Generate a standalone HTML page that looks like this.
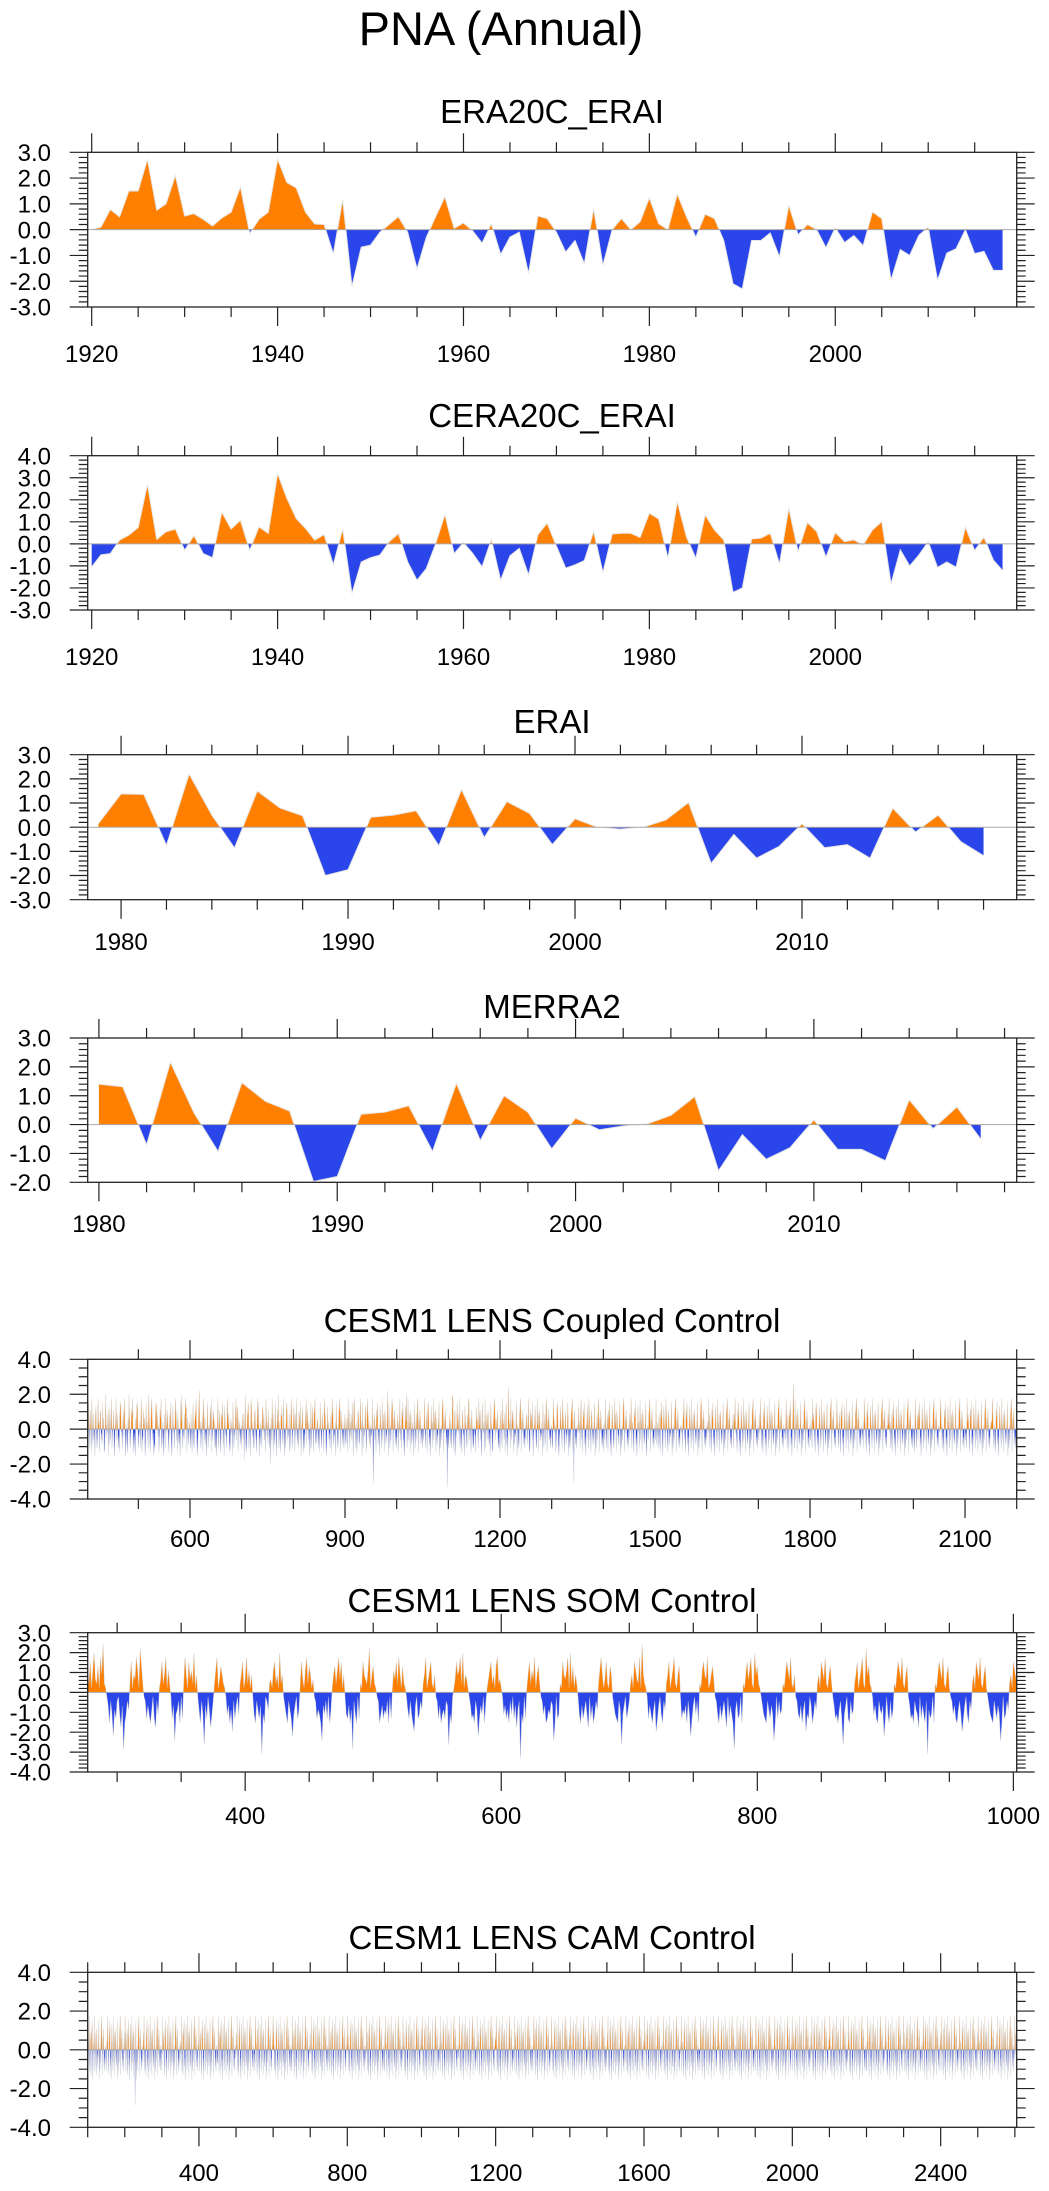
<!DOCTYPE html>
<html><head><meta charset="utf-8"><title>PNA (Annual)</title>
<style>html,body{margin:0;padding:0;background:#fff}svg{display:block;font-family:"Liberation Sans",Arial,sans-serif}</style>
</head><body>
<svg id="chart" xmlns="http://www.w3.org/2000/svg" width="1049" height="2191" viewBox="0 0 1049 2191">
<rect x="0" y="0" width="1049" height="2191" fill="#fff"/>
<text x="501" y="45" text-anchor="middle" font-size="47" fill="#000">PNA (Annual)</text>
<defs id="defs"></defs>
</svg>
<script>
// ---------- data ----------
const era20cStart = 1920;
const era20cValues = [0.0,0.1,0.78,0.5,1.5,1.5,2.73,0.75,1.0,2.1,0.53,0.62,0.4,0.14,0.45,0.68,1.66,-0.15,0.4,0.68,2.73,1.83,1.62,0.68,0.22,0.2,-0.94,1.17,-2.2,-0.68,-0.6,-0.1,0.2,0.5,-0.1,-1.52,-0.3,0.5,1.27,0.05,0.26,-0.05,-0.52,0.23,-0.96,-0.29,-0.1,-1.7,0.53,0.43,-0.1,-0.87,-0.42,-1.32,0.82,-1.38,0.0,0.43,0.0,0.3,1.23,0.23,0.0,1.38,0.5,-0.29,0.6,0.43,-0.42,-2.1,-2.3,-0.42,-0.42,-0.13,-1.06,0.95,-0.2,0.2,0.0,-0.7,0.08,-0.5,-0.23,-0.62,0.69,0.43,-1.95,-0.77,-1.0,-0.22,0.1,-1.97,-0.91,-0.74,0.0,-0.93,-0.84,-1.58,-1.58];
const cera20cStart = 1920;
const cera20cValues = [-1.04,-0.5,-0.44,0.17,0.4,0.74,2.7,0.2,0.55,0.67,-0.29,0.38,-0.44,-0.63,1.44,0.67,1.07,-0.29,0.77,0.47,3.19,2.06,1.15,0.7,0.17,0.42,-0.94,0.67,-2.25,-0.82,-0.63,-0.51,0.09,0.47,-0.82,-1.65,-1.12,0.0,1.33,-0.44,0.06,-0.44,-1.04,0.2,-1.65,-0.54,-0.2,-1.41,0.41,0.94,-0.1,-1.1,-0.95,-0.76,0.56,-1.3,0.45,0.48,0.48,0.29,1.39,1.13,-0.65,1.92,0.3,-0.65,1.31,0.63,0.18,-2.2,-2.0,0.22,0.26,0.48,-0.9,1.62,-0.35,0.97,0.56,-0.6,0.51,0.1,0.18,-0.05,0.63,1.01,-1.81,-0.27,-1.0,-0.5,0.1,-1.07,-0.82,-1.06,0.76,-0.3,0.3,-0.73,-1.21];
const eraiStart = 1979;
const eraiValues = [0.15,1.38,1.36,-0.75,2.2,0.5,-0.86,1.5,0.8,0.47,-2.0,-1.76,0.41,0.5,0.68,-0.77,1.56,-0.43,1.06,0.57,-0.72,0.35,0.0,-0.08,0.0,0.3,1.02,-1.5,-0.3,-1.28,-0.79,0.14,-0.85,-0.72,-1.28,0.79,-0.2,0.5,-0.6,-1.18];
const merra2Start = 1980;
const merra2Values = [1.4,1.31,-0.7,2.16,0.39,-0.93,1.45,0.8,0.47,-1.97,-1.8,0.36,0.43,0.65,-0.93,1.43,-0.55,1.0,0.43,-0.84,0.22,-0.18,-0.05,0.02,0.32,0.97,-1.6,-0.35,-1.2,-0.8,0.16,-0.86,-0.86,-1.25,0.86,-0.14,0.61,-0.5];
// code letters: (index in ALPH - 18) * 0.22
const ALPH = "0123456789abcdefghijklmnopqrstuvwxyz";
const coupledStart = 402;
const coupledCodes =
"lgpdjnhcqkemfiblohdgqjkcnmfhepilcdkrgjhmboenfkqdhj"+"nebhkqfmjdgclpoihdkngqmbfjeclhrkdgjnmqcfhebliopkdg"+
"hkdmqcgfnjlbepikhdrmgcjnqlfhbedkpoimgjchnlqdfkebmh"+"dqjhnkfcmglpebiohjdkqmfnclgehbpkrjdigmfqonclhekjgd"+
"mhcjpfdklnqgbeioshkdgjmcqnflehbkpdijgmocqfhnlkedjb"+"gkqdhnjcfmlpeibokhgdqnjmfcelhkbpjdigmqfonclhkegjdm"+
"ifmakrecglnpdhjbqoigkedmnhfclqjpbgekidnohmfjcqlgke"+"nhdj9lfqkcmegpibhnjrdkfcmlogeqhbjdkpnfigmcelqkdhjo"+
"kcmgqhejdnlfpbikogchdjmqenlfkhbgpdjoicmnqfehlkdgjc"+"pjfdmkhcqnlebgoikfhdjmcqnleghkbpjidfmoqcnlhekgdjmf"+
"ejlcqhndkgmfpiboqhjdkcgmnfelqhkbpdjigmocfqnlhekdjg"+"hqd4kmfjcnlpegibokhdqfjmcnleghskbpidjfmqoclhnkegdj"+
"mckhqfjdnlpgebiokrdhqfjmcnlegkhbpidjmfoqclhnkegjdi"+"fkqhdjmcnplegbiohkdqfjmncleghkpbidjfmqoclhnkeg3jdf"+
"jmekdhrqfclnbgipkhmeqdjfcnlhgbokidjmepqflhcnkgdejh"+"gcoklhdqjmfnbepihkcqdmjflngehbpkidcjmqoflhkngedjck"+
"nhdqkjfmclpegbtohkdqfjmnclehgkpbjidfmoqclhnkegdjfm"+"lejqhcdnkmfpbgikohedqjmcnlfhgkbpidjmeoqclhnkfgdjie"+
"dqmkhjcfnplebgiokhdqmjfcnlehgpkbidfjmoqcl4nkegdjih"+"ohkdmqfjcnlpegbikohdqmfjcnlhegkpbidjmfoqclhnkegdjc"+
"kfqhdjmcnlpgebiokhdfqjmcnlhgekpbidjfmqoclhnkegdjfm"+"hmqdkjfcnlpegbiohkdqfmjcnlhegkpbdijfmoqclhnkegdjif"+
"qekhdjmfcnlpgbiokhdqmjfcnlehgkpbidjfmoqclhnkegdjih"+"jdkmqhfcnlpegbiokhdqfjmcnlhegkpbidjfmqoclhnkegdjfi"+
"khqdmjfcnlpegbiokhdqfjmcnlhegkpbidjfmoqclhnkegdjim"+"dmkqhjfcnlpgebiokhdqfjmcnlhegkpbidjfmoqclhnkegdjif"+
"mhqkdjfcnlpegbiokhdqfjmcnlhegkpbidjfmoqclhnkegdjih"+"fkqhdmjcnlpegbiouhdqfjmcnlhegkpbidjfmoqclhnkegdjif"+
"lhdqkmjfcnplegbiokhdqfjmcnlhegkpbidjfmoqclhnkegdji"+"qkhdjmfcnlpegbiokhdqfjmcnlhegkpbidjfmoqclhnkegdjif"+
"hkdqmjfcnlpegbiokhdqfjmcnlhegkpbidjfmoqclhnkegdjim"+"jqhkdmfcnlpegbiokhdqfjmcnlhegkpbidjfmoqclhnkegdjif"+
"ckqhdjmfnlpegbiokhdqfjmcnlhegkpbidjfmoqclhnkegdjih"+"mqkhdjfcnlpegbiokhdqfjmcnlhegkpbidjfmoqclhnkegdjif"+
"hdqkmjfcnlpegbiokhdqfjmcnlhegkpbidjfmoqclhnkegdjik"+"kqmhdjfcnlpegbiokhdqfjmcnlhegkpbidjfmoqclhnkegdjif"+
"dhqkmjfcnlpegbiokhdqfjmcnlhegkpbidjfmoqclhnkegdjif";
const coupledValues = Array.from(coupledCodes, c => (ALPH.indexOf(c) - 18) * 0.22);
const somStart = 277;
const somCodes =
"mkpjnrlkojqmtkjhfbgd8ecghdaf5bdgekpjmlqnjsokhgcfdb"+"ehcagdjlpkmqjnkhcf7degbhckqmjplnkrjmhebgd6fcheadgk"+
"nqjlomkjhdfbe9gcfhdkmpjlqknjmhdbgecf4dbhgekljnpkmj"+"rkmhfdbgec8dfhcekpljnqkomjlhgcedb7fdgchbejmoknqlpj"+
"mhdcfbe5gdbhckjpmlknsjmokjhgbdfcedgbhcjnlpkqmjokjh"+"ecgdb9fhcdgekmqjlnpkjmhgcfbdecgf6dbhjlpmnqkrjmljhf"+
"cdbge8cfdhbgjlnpkmjoqkljhdfcebgdhcfaeg3dbhcjmpknlq"+"jmokhgdfbcedgf7bhcdkjpmlnqjrkojmkhdbfcegdahcfbdgek"+
"nqmjlpkjomhfdcbge6dfhcegkmjpnlkqjtmkjhcfdbeg9cfhdb"+"gekmpjlnqkjmohcedfbgd8cfhdgbkjnpmlqjkmolhgdbfcegda"+
"hcfdb5egcdhbkjmplnqkjrmokjhfdcbgecfd7bhcgdekjmpnlq"+"kjmhgdcfbeg9dchfbdgekmjpnlqkjmokhfcdbegc6dfhcbgdek"+
"mpjlnqkjsmokjhdfcbgedf8chdbgcekjmpnlqkjmohfcdbgeda"+"hcfdbg4ecdhbkjmpnlqkjmojhgdfcbegd9cfhdbgekmjpnlqkj"+
"mojhfdcbgecfd7bhcdgekmjpnlqkjrmokjhgdfcbeg8dchfbdg"+"ekmjpnlqkjmohfdcbgecf6dhbcgdekjmpnlqkjmokhgdfcbega";
const somValues = Array.from(somCodes, c => (ALPH.indexOf(c) - 18) * 0.22);
const camStart = 100;
const camCodes =
"oehkqdjmfcnlpgbikhqdmjfcnlehgkpbidjfmoqclhnkegdjif"+"kdhqmjfcnlpegbiokhdqfjmcnlhegkpbidjfmoqclhnkegdjim"+
"hqkdmjfcnlpegbiokhdqfjmcnlhe5kpbidjfmoqclhnkegdjif"+"mkqhdjfcnlpegbiokhdqfjmcnlhegkpbidjfmoqclhnkegdjih"+
"dqhkmjfcnlpegbiokhdqfjmcnlhegkpbidjfmoqclhnkegdjif"+"jkhqdmfcnlpegbiokhdqfjmcnlhegkpbidjfmoqclhnkegdjik"+
"qhdkmjfcnlpegbiokhdqfjmcnlhegkpbidjfmoqclhnkegdjif"+"fhqkdmjcnlpegbiokhdqfjmcnlhegkpbidjfmoqclhnkegdjig"+
"kmhqdjfcnlpegbiokhdqfjmcnlhegkpbidjfmoqclhnkegdjif"+"hdmqkjfcnlpegbiokhdqfjmcnlhegkpbidjfmoqclhnkegdjim"+
"qmkhdjfcnlpegbiokhdqfjmcnlhegkpbidjfmoqclhnkegdjif"+"dkqhmjfcnlpegbiokhdqfjmcnlhegkpbidjfmoqclhnkegdjih"+
"mhkqdjfcnlpegbiokhdqfjmcnlhegkpbidjfmoqclhnkegdjif"+"kqdhmjfcnlpegbiokhdqfjmcnlhegkpbidjfmoqclhnkegdjil"+
"hqmkdjfcnlpegbiokhdqfjmcnlhegkpbidjfmoqclhnkegdjif"+"jhqkdmfcnlpegbiokhdqfjmcnlhegkpbidjfmoqclhnkegdjie"+
"dmhqkjfcnlpegbiokhdqfjmcnlhegkpbidjfmoqclhnkegdjif"+"qkhmdjfcnlpegbiokhdqfjmcnlhegkpbidjfmoqclhnkegdjin"+
"khqmdjfcnlpegbiokhdqfjmcnlhegkpbidjfmoqclhnkegdjif"+"mdqhkjfcnlpegbiokhdqfjmcnlhegkpbidjfmoqclhnkegdjig"+
"hkqmdjfcnlpegbiokhdqfjmcnlhegkpbidjfmoqclhnkegdjif"+"qdkhmjfcnlpegbiokhdqfjmcnlhegkpbidjfmoqclhnkegdjil"+
"kmqhdjfcnlpegbiokhdqfjmcnlhegkpbidjfmoqclhnkegdjif"+"hqdkmjfcnlpegbiokhdqfjmcnlhegkpbidjfmoqclhnkegdjih"+
"dhkqmjfcnlpegbiokhdqfjmcnlhegkpbidjfmoqclhnkegdjif"+"mqhkdjfcnlpegbiokhdqfjmcnlhegkpbidjfmoqclhnkegdjim"+
"kdqmhjfcnlpegbiokhdqfjmcnlhegkpbidjfmoqclhnkegdjif"+"qhkdmjfcnlpegbiokhdqfjmcnlhegkpbidjfmoqclhnkegdjie"+
"hmkqdjfcnlpegbiokhdqfjmcnlhegkpbidjfmoqclhnkegdjif"+"jqkhdmfcnlpegbiokhdqfjmcnlhegkpbidjfmoqclhnkegdjik"+
"dqkmhjfcnlpegbiokhdqfjmcnlhegkpbidjfmoqclhnkegdjif"+"khmqdjfcnlpegbiokhdqfjmcnlhegkpbidjfmoqclhnkegdjih"+
"mqdhkjfcnlpegbiokhdqfjmcnlhegkpbidjfmoqclhnkegdjif"+"hdkqmjfcnlpegbiokhdqfjmcnlhegkpbidjfmoqclhnkegdjin"+
"qmhkdjfcnlpegbiokhdqfjmcnlhegkpbidjfmoqclhnkegdjif"+"kqhdmjfcnlpegbiokhdqfjmcnlhegkpbidjfmoqclhnkegdjig"+
"dmqkhjfcnlpegbiokhdqfjmcnlhegkpbidjfmoqclhnkegdjif"+"hkmqdjfcnlpegbiokhdqfjmcnlhegkpbidjfmoqclhnkegdjim"+
"qdhkmjfcnlpegbiokhdqfjmcnlhegkpbidjfmoqclhnkegdjif"+"mkhqdjfcnlpegbiokhdqfjmcnlhegkpbidjfmoqclhnkegdjil"+
"kqmdhjfcnlpegbiokhdqfjmcnlhegkpbidjfmoqclhnkegdjif"+"hqkmdjfcnlpegbiokhdqfjmcnlhegkpbidjfmoqclhnkegdjie"+
"dkhqmjfcnlpegbiokhdqfjmcnlhegkpbidjfmoqclhnkegdjif"+"jmqhkdfcnlpegbiokhdqfjmcnlhegkpbidjfmoqclhnkegdjih"+
"qkdmhjfcnlpegbiokhdqfjmcnlhegkpbidjfmoqclhnkegdjif"+"khdqmjfcnlpegbiokhdqfjmcnlhegkpbidjfmoqclhnkegdjik"+
"mdkqhjfcnlpegbiokhdqfjmcnlhegkpbidjfmoqclhnkegdjif"+"hqmdkjfcnlpegbiokhdqfjmcnlhegkpbidjfmoqclhnkegdjim"+
"dqmhkjfcnlpegbiokhdqfjmcnlhegkpbidjfmoqclhnkegdjif"+"kmdqhjfcnlpegbiokhdqfjmcnlhegkpbidjfmoqclhnkegdjig"+
"qhmkdjfcnlpegbiokhdqfjmcnlhegkpbidjfmoqclhnkegdjif";
const camValues = Array.from(camCodes, c => (ALPH.indexOf(c) - 18) * 0.22);

// tick labels
const xLabels1 = [1920,1940,1960,1980,2000];
const xLabels2 = [1920,1940,1960,1980,2000];
const xLabels3 = [1980,1990,2000,2010];
const xLabels4 = [1980,1990,2000,2010];
const xLabels5 = [600,900,1200,1500,1800,2100];
const xLabels6 = [400,600,800,1000];
const xLabels7 = [400,800,1200,1600,2000,2400];
const yLabels1 = [3,2,1,0,-1,-2,-3];
const yLabels2 = [4,3,2,1,0,-1,-2,-3];
const yLabels3 = [3,2,1,0,-1,-2,-3];
const yLabels4 = [3,2,1,0,-1,-2];
const yLabels5 = [4,2,0,-2,-4];
const yLabels6 = [3,2,1,0,-1,-2,-3,-4];
const yLabels7 = [4,2,0,-2,-4];

// ---------- drawing ----------
const NS = 'http://www.w3.org/2000/svg';
const svg = document.getElementById('chart');
const defs = document.getElementById('defs');
function mk(tag, attrs, parent){
  const e = document.createElementNS(NS, tag);
  for (const k in attrs) e.setAttribute(k, attrs[k]);
  (parent || svg).appendChild(e);
  return e;
}
const L = 87.7, R = 1016.7;
function drawPanel(P, vals, start, xLabels, yLabels, key){
  const g = mk('g', {});
  
  
  const X = v => L + (v - P.xmin) / (P.xmax - P.xmin) * (R - L);
  const Y = v => P.t + (P.ymax - v) / (P.ymax - P.ymin) * (P.b - P.t);
  const t = mk('text', {x: 552, y: P.tb, 'text-anchor': 'middle', 'font-size': 33, fill: '#000'}, g);
  t.textContent = P.title;
  
  
  const y0 = Y(0);
  const cu = mk('clipPath', {id: key + 'u'}, defs);
  mk('rect', {x: L, y: P.t, width: R - L, height: y0 - P.t}, cu);
  const cd = mk('clipPath', {id: key + 'd'}, defs);
  mk('rect', {x: L, y: y0, width: R - L, height: P.b - y0}, cd);
  const ca = mk('clipPath', {id: key + 'a'}, defs);
  mk('rect', {x: L, y: P.t, width: R - L, height: P.b - P.t}, ca);
  const line = vals.map((v, i) => X(start + i).toFixed(2) + ',' + Y(v).toFixed(2)).join(' ');
  const poly = X(start).toFixed(2) + ',' + y0 + ' ' + line + ' ' + X(start + vals.length - 1).toFixed(2) + ',' + y0;
  const pos = mk('polygon', {points: poly, fill: '#ff8000', 'clip-path': 'url(#' + key + 'u)'}, g);
  
  
  const neg = mk('polygon', {points: poly, fill: '#2a45ea', 'clip-path': 'url(#' + key + 'd)'}, g);
  
  
  const pl = mk('polyline', {points: line, fill: 'none', stroke: P.lc, 'stroke-width': P.lw, 'stroke-opacity': P.lo, 'clip-path': 'url(#' + key + 'a)'}, g);
  
  
  const z = mk('line', {x1: L, x2: R, y1: y0, y2: y0, stroke: '#aaa', 'stroke-width': 1}, g);
  
  
  const fr = mk('rect', {x: L, y: P.t, width: R - L, height: P.b - P.t, fill: 'none', stroke: '#222', 'stroke-width': 1.3}, g);
  
  
  let path = '';
  const n0 = Math.ceil(P.xmin / P.xminor), n1 = Math.floor(P.xmax / P.xminor);
  for (let n = n0; n <= n1; n++){
    const v = n * P.xminor, x = X(v).toFixed(2);
    const len = (Math.round(v) % P.xmajor === 0) ? 19 : 10;
    path += 'M' + x + ',' + P.t + 'v-' + len + 'M' + x + ',' + P.b + 'v' + len;
  }
  const m0 = Math.ceil(P.ymin / P.yminor - 1e-6), m1 = Math.floor(P.ymax / P.yminor + 1e-6);
  for (let m = m0; m <= m1; m++){
    const v = m * P.yminor, y = Y(v).toFixed(2);
    const major = Math.abs(v / P.ymajor - Math.round(v / P.ymajor)) < 1e-6;
    const len = major ? 18 : 9;
    path += 'M' + L + ',' + y + 'h-' + len + 'M' + R + ',' + y + 'h' + len;
  }
  const tk = mk('path', {d: path, stroke: '#222', 'stroke-width': 1.2, fill: 'none'}, g);
  
  
  xLabels.forEach(v => {
    const e = mk('text', {x: X(v), y: P.lb, 'text-anchor': 'middle', 'font-size': 24, fill: '#000'}, g);
    e.textContent = String(v);
    
    
  });
  yLabels.forEach(v => {
    const e = mk('text', {x: 51, y: Y(v) + 8.6, 'text-anchor': 'end', 'font-size': 24, fill: '#000'}, g);
    e.textContent = v.toFixed(1);
    
    
  });
}
const dense = {lc: '#c4c4c4', lw: 0.6, lo: 0.6};
const sparse = {lc: '#e6e6e6', lw: 1, lo: 1};
drawPanel(Object.assign({title: 'ERA20C_ERAI', t: 152.3, b: 307, ymax: 3, ymin: -3, ymajor: 1, yminor: 0.2, xmin: 1919.57, xmax: 2019.52, xmajor: 20, xminor: 5, tb: 123, lb: 362}, sparse), era20cValues, era20cStart, xLabels1, yLabels1, 'era20c');
drawPanel(Object.assign({title: 'CERA20C_ERAI', t: 455.7, b: 610, ymax: 4, ymin: -3, ymajor: 1, yminor: 0.2, xmin: 1919.57, xmax: 2019.52, xmajor: 20, xminor: 5, tb: 427, lb: 665}, sparse), cera20cValues, cera20cStart, xLabels2, yLabels2, 'cera20c');
drawPanel(Object.assign({title: 'ERAI', t: 754.7, b: 899.7, ymax: 3, ymin: -3, ymajor: 1, yminor: 0.2, xmin: 1978.53, xmax: 2019.46, xmajor: 10, xminor: 2, tb: 733, lb: 950}, sparse), eraiValues, eraiStart, xLabels3, yLabels3, 'erai');
drawPanel(Object.assign({title: 'MERRA2', t: 1038, b: 1182.3, ymax: 3, ymin: -2, ymajor: 1, yminor: 0.2, xmin: 1979.53, xmax: 2018.51, xmajor: 10, xminor: 2, tb: 1018, lb: 1232}, sparse), merra2Values, merra2Start, xLabels4, yLabels4, 'merra2');
drawPanel(Object.assign({title: 'CESM1 LENS Coupled Control', t: 1359.3, b: 1499, ymax: 4, ymin: -4, ymajor: 2, yminor: 0.5, xmin: 402, xmax: 2200, xmajor: 300, xminor: 100, tb: 1332, lb: 1547}, dense), coupledValues, coupledStart, xLabels5, yLabels5, 'coupled');
drawPanel(Object.assign({title: 'CESM1 LENS SOM Control', t: 1632.7, b: 1772, ymax: 3, ymin: -4, ymajor: 1, yminor: 0.2, xmin: 277, xmax: 1002.6, xmajor: 200, xminor: 50, tb: 1612, lb: 1824}, dense), somValues, somStart, xLabels6, yLabels6, 'som');
drawPanel(Object.assign({title: 'CESM1 LENS CAM Control', t: 1972.3, b: 2127.3, ymax: 4, ymin: -4, ymajor: 2, yminor: 0.5, xmin: 100, xmax: 2605, xmajor: 400, xminor: 100, tb: 1949, lb: 2181}, dense), camValues, camStart, xLabels7, yLabels7, 'cam');
</script>
</body></html>
